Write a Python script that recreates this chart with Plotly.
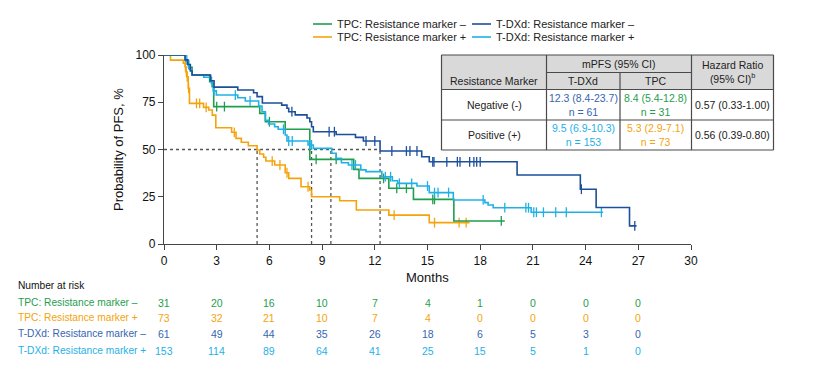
import plotly.graph_objects as go

# ---------------- data ----------------
months_ticks = [0, 3, 6, 9, 12, 15, 18, 21, 24, 27, 30]
y_ticks = [0, 25, 50, 75, 100]

series_names = ["TPC: Resistance marker \u2013", "TPC: Resistance marker +",
                "T-DXd: Resistance marker \u2013", "T-DXd: Resistance marker +"]

# TPC: resistance marker - (green)
tpc_neg_t = [0, 1.22, 1.4, 1.6, 2.6, 2.74, 2.83, 5.45, 5.77, 6.9, 8.3, 10.8, 11.1, 12.8, 14.2, 16.5, 19.4]
tpc_neg_s = [100, 96.8, 93.5, 89.4, 85.9, 83.2, 72.7, 69.1, 64.7, 60.7, 44.8, 39.5, 34.7, 29.5, 23.6, 12.2, 12.2]
tpc_neg_cens = [3.0, 3.44, 6.0, 8.66, 9.8, 12.5, 13.25, 13.8, 15.3, 15.4, 19.2]

# TPC: resistance marker + (orange)
tpc_pos_t = [0, 0.37, 1.1, 1.2, 1.25, 1.3, 1.38, 1.45, 2.25, 2.55, 2.75, 2.95, 3.85, 4.1, 4.4, 4.8,
             5.3, 5.45, 5.67, 5.8, 6.3, 6.9, 7.1, 7.8, 8.3, 8.4, 10.0, 10.95, 12.8, 15.1, 17.4]
tpc_pos_s = [100, 97.3, 95.6, 93.8, 91.2, 88.5, 82.4, 74.4, 72.3, 70.9, 68.2, 61.5, 59.1, 55.9, 53.8, 52.0,
             49.7, 47.6, 45.9, 43.9, 41.8, 37.7, 34.7, 30.3, 28.6, 25.0, 22.9, 18.0, 15.3, 11.3, 11.3]
tpc_pos_cens = [1.22, 1.27, 1.32, 1.4, 1.85, 2.03, 2.4, 4.0, 6.16, 6.6, 7.0, 8.2, 13.1, 15.4, 16.8, 17.2]

# T-DXd: resistance marker - (dark blue)
tdxd_neg_t = [0, 1.2, 1.35, 1.5, 1.6, 2.65, 2.85, 4.2, 5.1, 5.3, 5.6, 6.7, 7.0, 7.1, 7.47, 8.14, 8.3, 8.4,
              8.5, 9.8, 10.9, 11.35, 12.3, 14.67, 15.1, 20.1, 23.7, 24.6, 26.5, 26.9]
tdxd_neg_s = [100, 97.4, 95, 91.5, 89.4, 86.4, 83, 81.5, 80, 78, 74.6, 73.5, 71.8, 70, 68.3, 66.7, 64.7, 62,
              59.4, 57.9, 56.4, 54.5, 49.2, 46.2, 43.5, 36.5, 29, 19.3, 9.6, 9.6]
tdxd_neg_cens = [7.28, 9.4, 9.7, 11.5, 12.0, 12.97, 13.8, 14.0, 14.4, 15.3, 15.37, 16.1, 16.7, 16.85,
                 17.4, 17.64, 17.8, 18.0, 23.76, 26.8]

# T-DXd: resistance marker + (light blue)
tdxd_pos_t = [0, 1.22, 1.35, 1.45, 1.6, 2.26, 2.7, 2.8, 2.98, 4.2, 4.63, 5.39, 5.58, 5.77, 5.95, 6.3, 6.5,
              6.9, 7.0, 8.2, 8.5, 9.55, 9.8, 10.1, 10.5, 11.2, 11.5, 12.4, 13.0, 13.3, 14.4, 15.1, 16.47,
              18.27, 18.45, 18.74, 20.9, 25.0]
tdxd_pos_s = [100, 97.4, 95, 92.5, 89.4, 88.2, 85, 81, 78.8, 77.4, 75.7, 73, 70, 65.5, 63.5, 62, 60.7,
              57.7, 54.5, 52.4, 50.6, 48, 45.3, 43, 41.8, 39.2, 38.3, 35.6, 33.5, 32.1, 30.7, 27.2, 23.3,
              21.9, 20.6, 19.2, 16.8, 16.8]
tdxd_pos_cens = [1.3, 1.4, 2.85, 4.06, 4.9, 6.8, 7.1, 7.3, 8.3, 8.4, 10.7, 10.9, 12.6, 12.9, 13.4, 14.1,
                 15.0, 15.4, 15.6, 16.2, 18.17, 19.4, 20.6, 20.75, 21.05, 21.2, 21.6, 22.3, 22.9, 24.9]

medians = [5.3, 8.4, 9.5, 12.3]
median_level = 50

risk_tpc_neg = [31, 20, 16, 10, 7, 4, 1, 0, 0, 0]
risk_tpc_pos = [73, 32, 21, 10, 7, 4, 0, 0, 0, 0]
risk_tdxd_neg = [61, 49, 44, 35, 26, 18, 6, 5, 3, 0]
risk_tdxd_pos = [153, 114, 89, 64, 41, 25, 15, 5, 1, 0]
risk_times = [0, 3, 6, 9, 12, 15, 18, 21, 24, 27]

table_rows = ["Negative (-)", "Positive (+)"]
table_tdxd = ["12.3 (8.4-23.7)<br>n = 61", "9.5 (6.9-10.3)<br>n = 153"]
table_tpc = ["8.4 (5.4-12.8)<br>n = 31", "5.3 (2.9-7.1)<br>n = 73"]
table_hr = ["0.57 (0.33-1.00)", "0.56 (0.39-0.80)"]

# ---------------- styling ----------------
GREEN = "#1f9e4e"
ORANGE = "#f5a30c"
DBLUE = "#1d4f9b"
LBLUE = "#1fb1e6"
TXT_DBLUE = "#3566b0"
FONT = "Liberation Sans, Arial, sans-serif"
W, H = 825, 392
OFF = 8  # page body margin compensation


def px(x):
    return (x - OFF) / W


def py(y):
    return 1 - (y - OFF) / H


def surv_at(ts, ss, t):
    val = ss[0]
    for ti, si in zip(ts, ss):
        if ti <= t:
            val = si
    return val


fig = go.Figure()

# median guides
fig.add_trace(go.Scatter(x=[0, max(medians)], y=[median_level, median_level], mode="lines",
                         line=dict(color="#555555", width=1.3, dash="dot"), hoverinfo="skip",
                         showlegend=False))
for m in medians:
    fig.add_trace(go.Scatter(x=[m, m], y=[0, median_level], mode="lines",
                             line=dict(color="#555555", width=1.3, dash="dot"), hoverinfo="skip",
                             showlegend=False))

curves = [
    (tpc_pos_t, tpc_pos_s, tpc_pos_cens, ORANGE),
    (tpc_neg_t, tpc_neg_s, tpc_neg_cens, GREEN),
    (tdxd_pos_t, tdxd_pos_s, tdxd_pos_cens, LBLUE),
    (tdxd_neg_t, tdxd_neg_s, tdxd_neg_cens, DBLUE),
]
names_order = [series_names[1], series_names[0], series_names[3], series_names[2]]
for (ts, ss, cs, col), nm in zip(curves, names_order):
    fig.add_trace(go.Scatter(x=ts, y=ss, mode="lines", line=dict(color=col, width=1.6, shape="hv"),
                             name=nm, showlegend=False, cliponaxis=False))
    fig.add_trace(go.Scatter(x=cs, y=[surv_at(ts, ss, c) for c in cs], mode="markers",
                             marker=dict(symbol="line-ns", size=7, line=dict(color=col, width=1.3)),
                             showlegend=False, hoverinfo="skip", cliponaxis=False))

annotations = []
shapes = []

# legend (manual, 2x2)
leg = [(series_names[0], GREEN, 313, 24), (series_names[1], ORANGE, 313, 37),
       (series_names[2], DBLUE, 472, 24), (series_names[3], LBLUE, 472, 37)]
for nm, col, x0, yy in leg:
    shapes.append(dict(type="line", xref="paper", yref="paper", x0=px(x0), x1=px(x0 + 19),
                       y0=py(yy), y1=py(yy), line=dict(color=col, width=1.6)))
    annotations.append(dict(text=nm, xref="paper", yref="paper", x=px(x0 + 22), y=py(yy),
                            xanchor="left", yanchor="middle", showarrow=False,
                            font=dict(size=11, color="#222222", family=FONT)))

# axis titles
annotations.append(dict(text="Probability of PFS, %", xref="paper", yref="paper", x=px(118), y=py(150),
                        textangle=-90, showarrow=False, xanchor="center", yanchor="middle",
                        font=dict(size=13, color="#111111", family=FONT)))
annotations.append(dict(text="Months", xref="paper", yref="paper", x=px(427), y=py(277),
                        showarrow=False, xanchor="center", yanchor="middle",
                        font=dict(size=13, color="#111111", family=FONT)))

# number at risk
annotations.append(dict(text="Number at risk", xref="paper", yref="paper", x=px(16), y=py(285),
                        showarrow=False, xanchor="left", yanchor="middle",
                        font=dict(size=10.2, color="#111111", family=FONT)))
risk_rows = [(series_names[0], risk_tpc_neg, GREEN, 302.5),
             (series_names[1], risk_tpc_pos, ORANGE, 317.5),
             (series_names[2], risk_tdxd_neg, TXT_DBLUE, 333.5),
             (series_names[3], risk_tdxd_pos, LBLUE, 350.5)]
for nm, vals, col, yy in risk_rows:
    annotations.append(dict(text=nm, xref="paper", yref="paper", x=px(16), y=py(yy), showarrow=False,
                            xanchor="left", yanchor="middle", font=dict(size=10.2, color=col, family=FONT)))
    for t, v in zip(risk_times, vals):
        annotations.append(dict(text=str(v), xref="x", yref="paper", x=t, y=py(yy), showarrow=False,
                                xanchor="center", yanchor="middle",
                                font=dict(size=10.5, color=col, family=FONT)))

# table
TL, TR, TT, TB = 441.5, 773.5, 55, 150
c1, c2, c3 = 546.5, 620, 691.5
r0, r1, r2 = 72.5, 89.5, 120
BORDER = "#4a4a4a"
shapes.append(dict(type="rect", xref="paper", yref="paper", x0=px(TL), x1=px(TR), y0=py(TT), y1=py(r1),
                   fillcolor="#d9d9d9", line=dict(width=0), layer="below"))
shapes.append(dict(type="rect", xref="paper", yref="paper", x0=px(TL), x1=px(TR), y0=py(r1), y1=py(TB),
                   fillcolor="white", line=dict(width=0), layer="below"))
for (xa, ya, xb, yb) in [(TL, TT, TR, TT), (TL, TB, TR, TB), (TL, TT, TL, TB), (TR, TT, TR, TB),
                         (c1, TT, c1, TB), (c3, TT, c3, TB), (c2, r0, c2, TB),
                         (c1, r0, c3, r0), (TL, r1, TR, r1), (TL, r2, TR, r2)]:
    shapes.append(dict(type="line", xref="paper", yref="paper", x0=px(xa), x1=px(xb), y0=py(ya), y1=py(yb),
                       line=dict(color=BORDER, width=1.2)))

def tab_text(txt, x, y, col="#222222"):
    annotations.append(dict(text=txt, xref="paper", yref="paper", x=px(x), y=py(y), showarrow=False,
                            xanchor="center", yanchor="middle", align="center",
                            font=dict(size=10.5, color=col, family=FONT)))

tab_text("mPFS (95% CI)", (c1 + c3) / 2, 63.5)
tab_text("Resistance Marker", (TL + c1) / 2, 81)
tab_text("T-DXd", (c1 + c2) / 2, 81)
tab_text("TPC", (c2 + c3) / 2, 81)
tab_text("Hazard Ratio<br>(95% CI)<sup>b</sup>", (c3 + TR) / 2, 72)
row_y = [105, 135]
tdxd_cols = [TXT_DBLUE, LBLUE]
tpc_cols = [GREEN, ORANGE]
for i in range(2):
    tab_text(table_rows[i], (TL + c1) / 2, row_y[i])
    tab_text(table_tdxd[i], (c1 + c2) / 2, row_y[i], tdxd_cols[i])
    tab_text(table_tpc[i], (c2 + c3) / 2, row_y[i], tpc_cols[i])
    tab_text(table_hr[i], (c3 + TR) / 2, row_y[i])

fig.update_layout(
    width=W, height=H, autosize=False,
    margin=dict(l=0, r=0, t=0, b=0, pad=0, autoexpand=False),
    paper_bgcolor="white", plot_bgcolor="white",
    font=dict(family=FONT, color="#222222"),
    showlegend=False,
    xaxis=dict(domain=[px(164), px(691)], range=[0, 30], tickvals=months_ticks, ticks="outside",
               ticklen=5, tickcolor="#444444", showline=True, linecolor="#444444", linewidth=1.2,
               showgrid=False, zeroline=False, automargin=False,
               tickfont=dict(size=12, color="#111111", family=FONT)),
    yaxis=dict(domain=[py(244), py(55)], range=[0, 100], tickvals=y_ticks, ticks="outside",
               ticklen=5, tickcolor="#444444", showline=True, linecolor="#444444", linewidth=1.2,
               showgrid=False, zeroline=False, automargin=False,
               tickfont=dict(size=12, color="#111111", family=FONT)),
    annotations=annotations,
    shapes=shapes,
)

fig.write_html("out.html")
